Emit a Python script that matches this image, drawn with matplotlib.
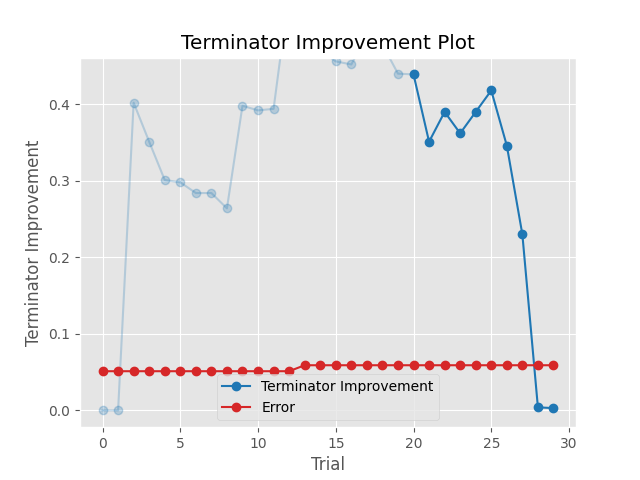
import matplotlib
matplotlib.use("Agg")
import matplotlib.pyplot as plt

# data
trials = list(range(30))
improvements = [0.0, 0.0, 0.402, 0.351, 0.301, 0.298, 0.284, 0.284, 0.264, 0.398,
                0.392, 0.394, 0.548, 0.50, 0.47, 0.456, 0.452, 0.49, 0.478, 0.440,
                0.439, 0.351, 0.390, 0.362, 0.390, 0.418, 0.346, 0.230, 0.004, 0.003]
errors = [0.0512] * 13 + [0.0590] * 17
min_n_trials = 20

plt.style.use("ggplot")
fig, ax = plt.subplots(figsize=(6.4, 4.8), dpi=100)
ax.set_title("Terminator Improvement Plot")
ax.set_xlabel("Trial")
ax.set_ylabel("Terminator Improvement")
cmap = plt.get_cmap("tab10")

ax.plot(trials[:min_n_trials + 1], improvements[:min_n_trials + 1],
        marker="o", color=cmap(0), alpha=0.25)
ax.plot(trials[min_n_trials:], improvements[min_n_trials:],
        marker="o", color=cmap(0), label="Terminator Improvement")
ax.plot(trials, errors, marker="o", color=cmap(3), label="Error")
ax.legend(loc="lower center")

lo = min(min(improvements), min(errors))
hi = max(max(improvements[min_n_trials:]), max(errors))
pad = (hi - lo) * 0.05
ax.set_ylim(lo - pad, hi + pad)

fig.savefig("out.png", dpi=100)
